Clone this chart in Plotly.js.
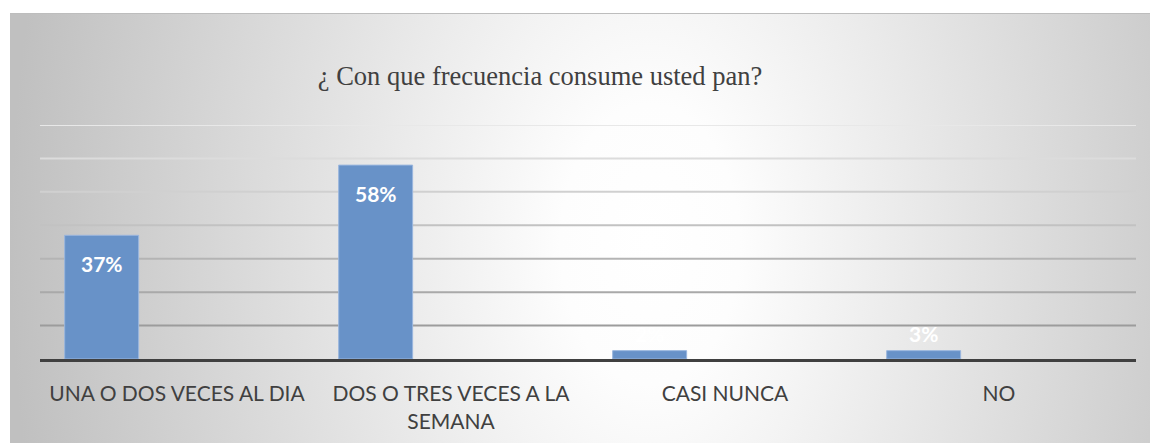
<!DOCTYPE html>
<html><head><meta charset="utf-8">
<script src="https://cdn.plot.ly/plotly-3.0.1.min.js"></script>
<style>
html,body{margin:0;padding:0;background:#fff;width:1150px;height:443px;overflow:hidden}
#bg{position:absolute;left:10px;top:13px;width:1140px;height:430px;background:radial-gradient(ellipse 640px 1000px at 640px 230px,#ffffff 0%,#fdfdfd 14%,#c0c0c0 100%);border-top:1px solid #bdbdbd;box-sizing:border-box}
#chart{position:absolute;left:0;top:0;width:1150px;height:443px}
</style></head><body><div id="bg"></div><div id="chart"></div>
<script>
const categories = ['UNA O DOS VECES AL DIA', 'DOS O TRES VECES A LA<br>SEMANA', 'CASI NUNCA', 'NO'];
const values = [37, 58, 2.5, 2.5];
const valueLabels = ['37%', '58%', '2%', '3%'];
const yTicks = [10, 20, 30, 40, 50, 60, 70];

const gridColors = ['#9c9c9c', '#a9a9a9', '#b4b4b4', '#c2c2c2', '#d0d0d0', '#dcdcdc', '#e8e8e8'];
const BAR_OFFSET = -0.41, BAR_WIDTH = 0.27;

const trace = {
  type: 'bar',
  x: categories,
  y: values,
  offset: BAR_OFFSET,
  width: BAR_WIDTH,
  marker: {color: '#6892c8', line: {color: '#9ab6de', width: 1}},
  hoverinfo: 'skip'
};

const annotations = values.map((v, i) => ({
  x: i + BAR_OFFSET + BAR_WIDTH / 2,
  y: v,
  xref: 'x', yref: 'y',
  text: valueLabels[i],
  showarrow: false,
  yanchor: 'middle',
  yshift: v > 10 ? -28 : 17,
  font: {family: 'Lato', size: 21, color: '#ffffff', weight: 'bold'}
}));

const shapes = yTicks.map((t, i) => ({
  type: 'line', layer: 'below',
  xref: 'paper', x0: 0, x1: 1,
  yref: 'y', y0: t, y1: t,
  line: {color: gridColors[i], width: 2}
}));

const layout = {
  width: 1150, height: 443,
  paper_bgcolor: 'rgba(0,0,0,0)',
  plot_bgcolor: 'rgba(0,0,0,0)',
  margin: {l: 40, r: 14, t: 125, b: 84, pad: 0},
  showlegend: false,
  title: {
    text: '¿ Con que frecuencia consume usted pan?',
    font: {family: 'Liberation Serif', size: 26.5, color: '#404040'},
    xref: 'container', x: 0.4696, xanchor: 'center',
    yref: 'container', y: 0.828, yanchor: 'middle'
  },
  xaxis: {
    type: 'category',
    range: [-0.5, 3.5],
    showgrid: false, zeroline: false,
    showline: true, linecolor: '#404040', linewidth: 3,
    ticks: '',
    tickfont: {family: 'Lato', size: 21, color: '#404040'},
    ticklabelstandoff: 14,
    fixedrange: true
  },
  yaxis: {
    range: [0, 70],
    showgrid: false, zeroline: false, showline: false,
    showticklabels: false, ticks: '',
    fixedrange: true
  },
  shapes: shapes,
  annotations: annotations
};

Plotly.newPlot('chart', [trace], layout, {displayModeBar: false, staticPlot: true});
</script></body></html>
